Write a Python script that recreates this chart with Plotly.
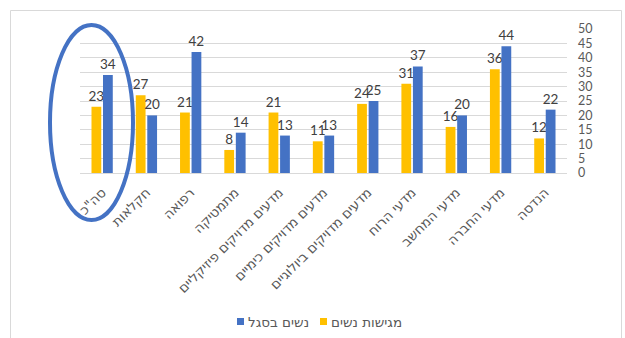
import plotly.graph_objects as go

# Fields of study (left to right as displayed)
categories = [
    'סה"כ',
    "חקלאות",
    "רפואה",
    "מתמטיקה",
    "מדעים מדויקים פיזיקליים",
    "מדעים מדויקים כימיים",
    "מדעים מדויקים ביולוגיים",
    "מדעי הרוח",
    "מדעי המחשב",
    "מדעי החברה",
    "הנדסה",
]
applicants_women = [23, 27, 21, 8, 21, 11, 24, 31, 16, 36, 12]
faculty_women = [34, 20, 42, 14, 13, 13, 25, 37, 20, 44, 22]
y_ticks = list(range(0, 51, 5))

series_names = ["מגישות נשים", "נשים בסגל"]
series_colors = ["#FFC000", "#4472C4"]

W, H = 625, 338
PL, PR, PT, PB = 80, 567, 29, 173  # plot area in pixels


def px_x(x):
    return (x - PL) / (PR - PL)


def px_y(y):
    return (PB - y) / (PB - PT)


label_font = dict(family="Lato, Open Sans, sans-serif", size=13.5, color="#404040")
heb_font = "DejaVu Sans, sans-serif"

fig = go.Figure()
for name, vals, col in zip(series_names, [applicants_women, faculty_women], series_colors):
    fig.add_trace(go.Bar(
        x=categories, y=vals, name=name,
        marker=dict(color=col, line=dict(width=0)),
        text=vals, texttemplate="%{text}", textposition="outside",
        textfont=label_font, cliponaxis=False, constraintext="none",
        showlegend=False,
    ))

shapes = []
annotations = []

# outer frame
shapes.append(dict(type="rect", xref="paper", yref="paper",
                   x0=px_x(10.5), x1=px_x(621.5), y0=px_y(360), y1=px_y(10.5),
                   line=dict(color="#D9D9D9", width=1), layer="below"))

# highlight ellipse round the total
shapes.append(dict(type="circle", xref="paper", yref="paper",
                   x0=px_x(50), x1=px_x(133), y0=px_y(220), y1=px_y(25),
                   line=dict(color="#4472C4", width=4)))

# legend: marker squares with text on their right
legend_items = [(series_names[1], series_colors[1], 237), (series_names[0], series_colors[0], 320)]
for name, col, x0 in legend_items:
    shapes.append(dict(type="rect", xref="paper", yref="paper",
                       x0=px_x(x0), x1=px_x(x0 + 7), y0=px_y(325), y1=px_y(318),
                       line=dict(width=0), fillcolor=col))
    annotations.append(dict(xref="paper", yref="paper", x=px_x(x0 + 9), y=px_y(321.5),
                            text=name, showarrow=False, xanchor="left", yanchor="middle",
                            font=dict(family=heb_font, size=13.5, color="#595959")))

fig.update_layout(
    width=W, height=H,
    margin=dict(l=PL, r=W - PR, t=PT, b=H - PB, pad=0),
    paper_bgcolor="white", plot_bgcolor="white",
    barmode="group", bargap=0.48, bargroupgap=0.15,
    showlegend=False,
    shapes=shapes, annotations=annotations,
    xaxis=dict(
        type="category", tickangle=-45,
        tickfont=dict(family=heb_font, size=13.5, color="#595959"),
        showgrid=False, showline=False, ticks="", zeroline=False,
        ticklabelstandoff=8,
    ),
    yaxis=dict(
        side="right", range=[0, 50], tickvals=y_ticks,
        tickfont=dict(family="Lato, Open Sans, sans-serif", size=12.5, color="#595959"),
        showgrid=True, gridcolor="#D9D9D9", gridwidth=1,
        zeroline=True, zerolinecolor="#D9D9D9", zerolinewidth=1,
        showline=False, ticks="", ticklabelstandoff=10,
    ),
)

fig.write_html("out.html")
